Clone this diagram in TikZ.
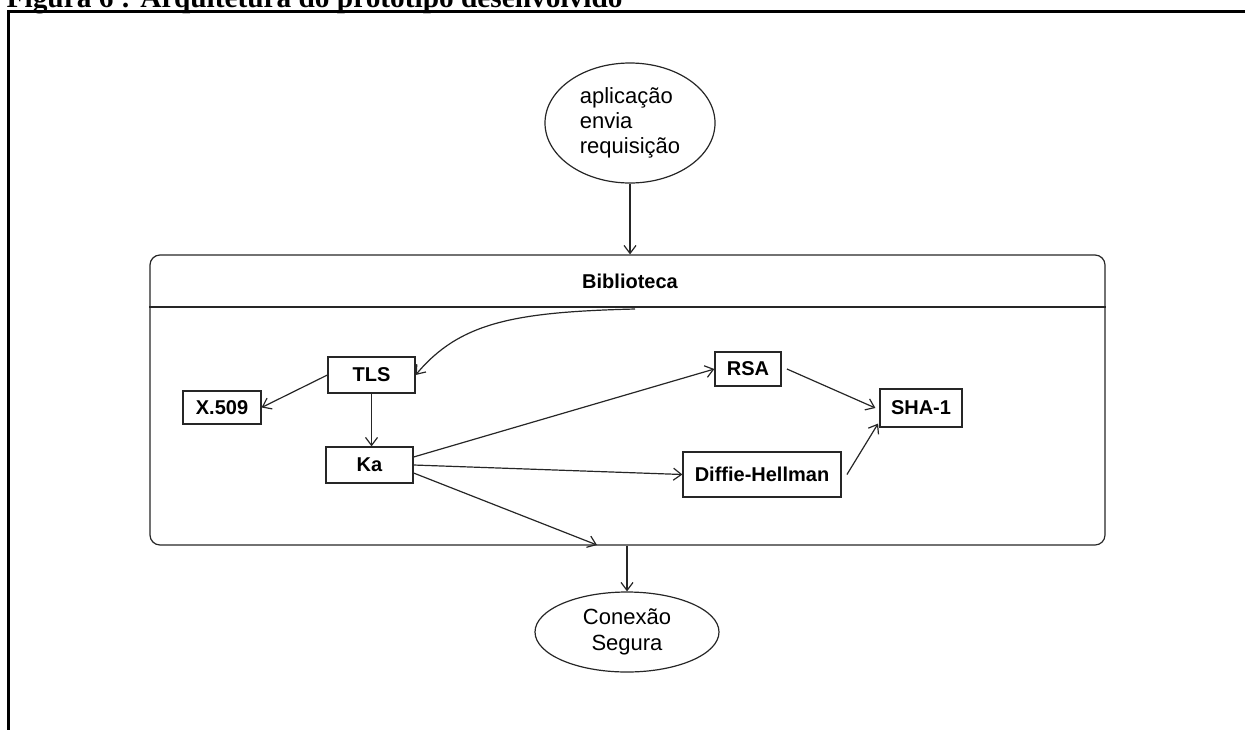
\documentclass[tikz,border=0pt]{standalone}
\usepackage{fontspec}
\setmainfont{Liberation Sans}
\newfontfamily\titlefont{Liberation Serif}
\usetikzlibrary{arrows.meta,shapes.geometric}
\begin{document}
\begin{tikzpicture}[x=0.75pt,y=-0.75pt,line cap=butt,line join=miter,>={Straight Barb[length=6pt,width=9pt]}]
	\tikzset{box/.style={draw=black!85,line width=0.9pt,inner sep=0pt,font=\fontsize{15}{18}\selectfont\bfseries},
		oval/.style={ellipse,draw=black!85,line width=0.9pt,inner sep=0pt,font=\fontsize{16.5}{19}\selectfont},
		link/.style={draw=black!85,line width=0.9pt,->}
	}
	\useasboundingbox (0,0) rectangle (1245,729);
	\node[anchor=base west,font=\titlefont\bfseries\fontsize{22}{26}\selectfont] (titulo) at (2,7) {Figura 6 : Arquitetura do protótipo desenvolvido};
	\draw[line width=2.25pt] (8,735) -- (8,11) -- (1250,11);
	\node[oval,minimum width=127.5pt,minimum height=90pt,align=left] (app) at (630,123) {aplicação\\envia\\requisição};
	\node[draw=black!85,line width=0.9pt,rounded corners=7.5pt,minimum width=716.25pt,minimum height=217.5pt] (lib) at (627.5,400) {};
	\coordinate (div) at (0,307);
	\draw[black!85,line width=0.9pt] (lib.west |- div) -- (lib.east |- div);
	\node[font=\fontsize{15}{18}\selectfont\bfseries] (libtitle) at (630,281) {Biblioteca};
	\node[box,minimum width=65.25pt,minimum height=27pt] (tls) at (371.5,375) {TLS};
	\node[box,minimum width=58.5pt,minimum height=24.75pt] (x509) at (222,407.5) {X.509};
	\node[box,minimum width=65.25pt,minimum height=27pt] (ka) at (369.5,465) {Ka};
	\node[box,minimum width=49.5pt,minimum height=25.5pt] (rsa) at (748,369) {RSA};
	\node[box,minimum width=61.5pt,minimum height=28.5pt] (sha) at (921,408) {SHA-1};
	\node[box,minimum width=118.5pt,minimum height=33.75pt] (dh) at (762,474.5) {Diffie-Hellman};
	\node[oval,minimum width=138pt,minimum height=60pt,align=center] (conn) at (627,632) {Conexão\\Segura};
	\coordinate (hdr) at (635,309);
	\coordinate (libout) at (597,545);
	\draw[link] (app.south) -- (app.south |- lib.north);
	\draw[link] (lib.south -| conn) -- (conn.north);
	\draw[link] (hdr) .. controls (515,312) and (460,322) .. (tls.east);
	\draw[link] (tls.west) -- (x509.east);
	\draw[link] (tls.south) -- (tls.south |- ka.north);
	\draw[link] ([yshift=6pt]ka.east) -- (rsa.west);
	\draw[link] (ka.east) -- (dh.west);
	\draw[link] ([yshift=-6pt]ka.east) -- (libout);
	\draw[link] ([xshift=4pt]rsa.east) -- ([xshift=-3pt]sha.west);
	\draw[link] ([xshift=4pt]dh.east) -- ([shift={(-1pt,3pt)}]sha.south west);
\end{tikzpicture}
\end{document}
